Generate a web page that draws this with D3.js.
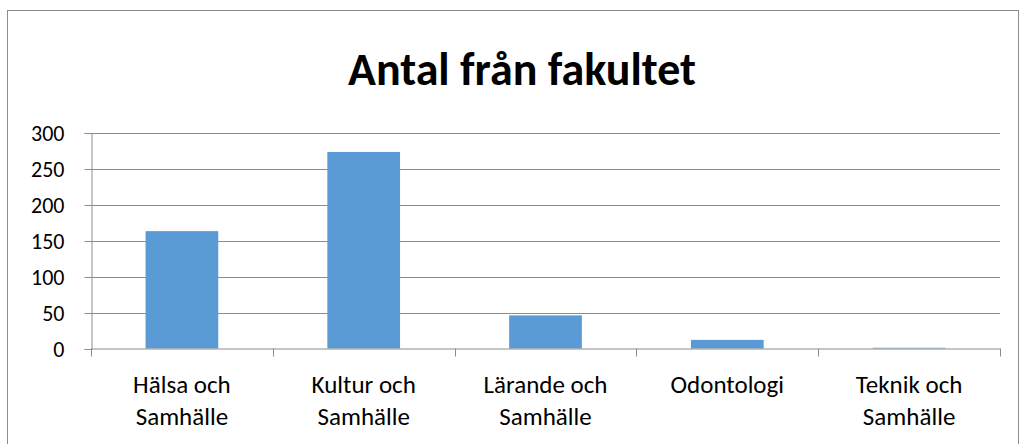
<!DOCTYPE html>
<html>
<head>
<meta charset="utf-8">
<script src="https://cdn.jsdelivr.net/npm/d3@7"></script>
<style>
  body { margin: 0; background: #fff; }
  text { font-family: Carlito, Calibri, Lato, sans-serif; fill: #000; }
</style>
</head>
<body>
<div id="chart"></div>
<script>
// data
var categories = ["Hälsa och Samhälle", "Kultur och Samhälle", "Lärande och Samhälle", "Odontologi", "Teknik och Samhälle"];
var values = [163, 273, 46, 12, 1];
var yTicks = [0, 50, 100, 150, 200, 250, 300];
var title = "Antal från fakultet";

var width = 1021, height = 444;
var plotLeft = 91, plotRight = 1000, plotTop = 132.5, plotBottom = 348.5;

var svg = d3.select("#chart").append("svg")
    .attr("width", width)
    .attr("height", height);

// outer border
svg.append("rect")
    .attr("x", 7.5).attr("y", 10.5)
    .attr("width", 1011).attr("height", 460)
    .attr("fill", "none")
    .attr("stroke", "#8c8c8c");

svg.append("text")
    .attr("x", 522).attr("y", 85)
    .attr("text-anchor", "middle")
    .style("font-size", "46px")
    .style("font-weight", "bold")
    .text(title);

var x = d3.scaleBand()
    .domain(categories)
    .range([plotLeft, plotRight])
    .paddingInner(0.6)
    .paddingOuter(0.3);

var y = d3.scaleLinear()
    .domain([0, 300])
    .range([plotBottom, plotTop]);

// gridlines
svg.append("g").selectAll("line")
    .data(yTicks.slice(1))
    .enter().append("line")
    .attr("x1", plotLeft).attr("x2", plotRight)
    .attr("y1", function(d) { return Math.round(y(d)) + 0.5; })
    .attr("y2", function(d) { return Math.round(y(d)) + 0.5; })
    .attr("stroke", "#8c8c8c");

// y axis
var yAxis = svg.append("g")
    .attr("transform", "translate(" + (plotLeft + 0.5) + ",0.5)")
    .call(d3.axisLeft(y).tickValues(yTicks).tickSize(7).tickPadding(20));
yAxis.select(".domain").attr("stroke", "#8c8c8c");
yAxis.selectAll(".tick line").attr("stroke", "#8c8c8c");
yAxis.selectAll(".tick text")
    .style("font-size", "22px")
    .style("font-family", "Carlito, Calibri, Lato, sans-serif")
    .attr("fill", "#000");

// bars
svg.append("g").selectAll("rect")
    .data(values)
    .enter().append("rect")
    .attr("x", function(d, i) { return x(categories[i]); })
    .attr("width", x.bandwidth())
    .attr("y", function(d) { return y(d); })
    .attr("height", function(d) { return plotBottom - y(d); })
    .attr("fill", "#5b9bd5");

// x axis line and boundary ticks
var step = x.step();
svg.append("line")
    .attr("x1", plotLeft).attr("x2", plotRight + 0.5)
    .attr("y1", plotBottom + 0.5).attr("y2", plotBottom + 0.5)
    .attr("stroke", "#8c8c8c");
svg.append("g").selectAll("line")
    .data(d3.range(categories.length + 1))
    .enter().append("line")
    .attr("x1", function(i) { return Math.round(plotLeft + i * step) + 0.5; })
    .attr("x2", function(i) { return Math.round(plotLeft + i * step) + 0.5; })
    .attr("y1", plotBottom).attr("y2", plotBottom + 8)
    .attr("stroke", "#8c8c8c");

// category labels, wrapped on " och "
var labels = svg.append("g").selectAll("text")
    .data(categories)
    .enter().append("text")
    .attr("text-anchor", "middle")
    .style("font-size", "25px")
    .attr("transform", function(d) { return "translate(" + (x(d) + x.bandwidth() / 2) + ",0)"; });

labels.each(function(d) {
    var parts = d.indexOf(" och ") > 0 ? [d.split(" och ")[0] + " och", d.split(" och ")[1]] : [d];
    d3.select(this).selectAll("tspan")
        .data(parts)
        .enter().append("tspan")
        .attr("x", 0)
        .attr("y", function(p, j) { return 393 + j * 32; })
        .text(function(p) { return p; });
});
</script>
</body>
</html>
